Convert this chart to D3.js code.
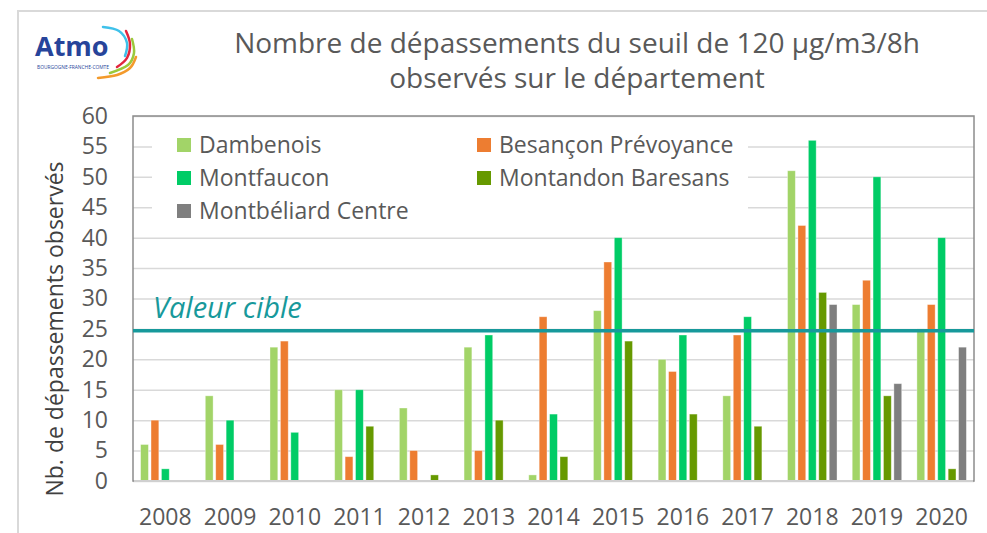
<!DOCTYPE html>
<html>
<head>
<meta charset="utf-8">
<script src="https://cdn.jsdelivr.net/npm/d3@7"></script>
<style>
  html, body { margin: 0; padding: 0; background: #fff; }
  svg { display: block; font-family: 'Open Sans', sans-serif; }
</style>
</head>
<body>
<div id="chart"></div>
<script>
// data
const years = ['2008', '2009', '2010', '2011', '2012', '2013', '2014', '2015', '2016', '2017', '2018', '2019', '2020']
const stations = ['Dambenois', 'Besançon Prévoyance', 'Montfaucon', 'Montandon Baresans', 'Montbéliard Centre']
const stationColors = ['#A2D468', '#ED7D31', '#00CC66', '#669900', '#7F7F7F']

const dambenois   = [6, 14, 22, 15, 12, 22, 1, 28, 20, 14, 51, 29, 25]
const besancon    = [10, 6, 23, 4, 5, 5, 27, 36, 18, 24, 42, 33, 29]
const montfaucon  = [2, 10, 8, 15, null, 24, 11, 40, 24, 27, 56, 50, 40]
const montandon   = [null, null, null, 9, 1, 10, 4, 23, 11, 9, 31, 14, 2]
const montbeliard = [null, null, null, null, null, null, null, null, null, null, 29, 16, 22]

const yTicks = [0, 5, 10, 15, 20, 25, 30, 35, 40, 45, 50, 55, 60]
const targetValue = 24.7
const targetLabel = 'Valeur cible'

const titleLines = ['Nombre de dépassements du seuil de 120 µg/m3/8h', 'observés sur le département']
const yLabel = 'Nb. de dépassements observés'

const seriesValues = [dambenois, besancon, montfaucon, montandon, montbeliard]

const width = 987
const height = 533
const plot = { left: 133, right: 974, top: 116, bottom: 481 }

const svg = d3.select('#chart')
  .append('svg')
  .attr('width', width)
  .attr('height', height)

// outer frame of the chart (only top + left are visible)
svg.append('rect')
  .attr('x', 18).attr('y', 11)
  .attr('width', 1000).attr('height', 600)
  .attr('fill', '#fff')
  .attr('stroke', '#d9d9d9')
  .attr('stroke-width', 2)

const x0 = d3.scaleBand().domain(years).range([plot.left, plot.right])
const x1 = d3.scaleBand().domain(stations).range([0, x0.bandwidth()])
  .paddingInner(0.25).paddingOuter(0.73)
const y = d3.scaleLinear().domain([0, 60]).range([plot.bottom, plot.top])
const color = d3.scaleOrdinal().domain(stations).range(stationColors)

// gridlines
const grid = svg.append('g')
  .attr('transform', `translate(${plot.left},0)`)
  .call(d3.axisLeft(y).tickValues(yTicks).tickSize(-(plot.right - plot.left)).tickFormat(''))
grid.select('.domain').remove()
grid.selectAll('line').attr('stroke', '#d9d9d9').attr('stroke-width', 1.5)

// legend background hides the gridlines behind it
const legend = svg.append('g')
legend.append('rect')
  .attr('x', 152).attr('y', 125)
  .attr('width', 596).attr('height', 101)
  .attr('fill', '#fff')

const legendItems = legend.selectAll('.item')
  .data(stations)
  .join('g')
  .attr('class', 'item')
  .attr('transform', (d, i) => `translate(${177 + (i % 2) * 300},${145 + Math.floor(i / 2) * 33})`)
legendItems.append('rect')
  .attr('x', 0).attr('y', -7)
  .attr('width', 14).attr('height', 14)
  .attr('fill', d => color(d))
legendItems.append('text')
  .attr('x', 22).attr('y', 0).attr('dy', '0.35em')
  .attr('font-size', 23)
  .attr('fill', '#595959')
  .text(d => d)

// bars
const barData = []
years.forEach((year, yi) => {
  stations.forEach((station, si) => {
    const value = seriesValues[si][yi]
    if (value != null) barData.push({ year, station, value })
  })
})

svg.append('g')
  .selectAll('rect')
  .data(barData)
  .join('rect')
  .attr('x', d => x0(d.year) + x1(d.station))
  .attr('y', d => y(d.value))
  .attr('width', x1.bandwidth())
  .attr('height', d => y(0) - y(d.value))
  .attr('fill', d => color(d.station))
  .attr('stroke', '#fff')
  .attr('stroke-opacity', 0.45)
  .attr('stroke-width', 0.8)

// plot border
svg.append('rect')
  .attr('x', plot.left).attr('y', plot.top)
  .attr('width', plot.right - plot.left).attr('height', plot.bottom - plot.top)
  .attr('fill', 'none')
  .attr('stroke', '#8c8c8c')
  .attr('stroke-width', 1.5)
svg.append('line')
  .attr('x1', plot.left + 1).attr('x2', plot.right - 1)
  .attr('y1', plot.bottom).attr('y2', plot.bottom)
  .attr('stroke', '#d0d0d0')
  .attr('stroke-width', 2)

// target line
svg.append('line')
  .attr('x1', plot.left).attr('x2', plot.right)
  .attr('y1', y(targetValue)).attr('y2', y(targetValue))
  .attr('stroke', '#17999B')
  .attr('stroke-width', 3.5)
svg.append('text')
  .attr('x', 153).attr('y', y(targetValue) - 13)
  .attr('font-size', 29)
  .attr('font-style', 'italic')
  .attr('fill', '#17999B')
  .text(targetLabel)

// y axis
const yAxis = svg.append('g')
  .attr('transform', `translate(${plot.left},0)`)
  .call(d3.axisLeft(y).tickValues(yTicks).tickSize(0).tickPadding(25))
yAxis.select('.domain').remove()
yAxis.selectAll('text')
  .attr('font-family', "'Open Sans', sans-serif")
  .attr('font-size', 23)
  .attr('fill', '#595959')

// x axis
const xAxis = svg.append('g')
  .attr('transform', `translate(0,${plot.bottom})`)
  .call(d3.axisBottom(x0).tickSize(0).tickPadding(28))
xAxis.select('.domain').remove()
xAxis.selectAll('text')
  .attr('font-family', "'Open Sans', sans-serif")
  .attr('font-size', 23)
  .attr('fill', '#595959')

// y axis title
svg.append('text')
  .attr('transform', 'translate(63,329) rotate(-90)')
  .attr('text-anchor', 'middle')
  .attr('font-size', 23)
  .attr('fill', '#404040')
  .text(yLabel)

// chart title
svg.append('g')
  .selectAll('text')
  .data(titleLines)
  .join('text')
  .attr('x', 577)
  .attr('y', (d, i) => 53 + i * 35)
  .attr('text-anchor', 'middle')
  .attr('font-size', 28)
  .attr('fill', '#595959')
  .text(d => d)

// Atmo logo
const logo = svg.append('g')
logo.append('text')
  .attr('x', 35).attr('y', 56)
  .attr('font-size', 27)
  .attr('font-weight', 'bold')
  .attr('fill', '#27449A')
  .text('Atmo')
logo.append('text')
  .attr('x', 37).attr('y', 69)
  .attr('font-size', 4.5)
  .attr('textLength', 72)
  .attr('lengthAdjust', 'spacingAndGlyphs')
  .attr('fill', '#27449A')
  .text('BOURGOGNE-FRANCHE-COMTE')

const swoosh = d3.line().curve(d3.curveCardinal)
const arcs = [
  { c: '#3FC1EA', w: 2.5, p: [[103, 27], [119, 31], [127, 43], [125, 56]] },
  { c: '#E2253E', w: 2.5, p: [[126, 31], [130, 44], [127, 58], [117, 67]] },
  { c: '#9BC93B', w: 2.5, p: [[132, 39], [134, 53], [128, 65], [110, 73]] },
  { c: '#F39A2B', w: 2.5, p: [[136, 57], [130, 68], [117, 75], [98, 78]] }
]
logo.selectAll('path')
  .data(arcs)
  .join('path')
  .attr('d', d => swoosh(d.p))
  .attr('fill', 'none')
  .attr('stroke', d => d.c)
  .attr('stroke-width', d => d.w)
  .attr('stroke-linecap', 'round')
</script>
</body>
</html>
